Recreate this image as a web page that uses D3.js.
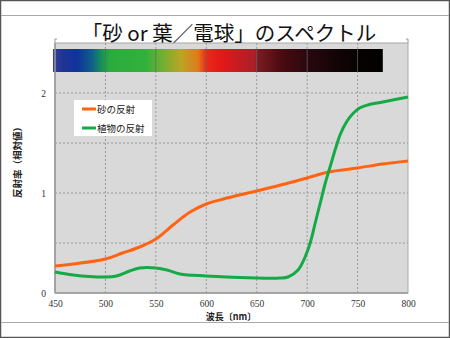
<!DOCTYPE html>
<html><head><meta charset="utf-8">
<script src="https://cdn.jsdelivr.net/npm/d3@7"></script>
<style>
html,body{margin:0;padding:0;background:#fff;}
svg{display:block;}
</style></head>
<body>
<svg id="c" width="450" height="338"></svg>
<script>
const title = "「砂 or 葉／電球」のスペクトル";
const xLabel = "波長〔nm〕";
const yLabel = "反射率（相対値）";
const seriesNames = ["砂の反射", "植物の反射"];
const xTicks = [450, 500, 550, 600, 650, 700, 750, 800];
const yTicks = [0, 1, 2];
const sandWl = [450, 468, 500, 517, 534, 550, 567, 584, 600, 617, 650, 678, 700, 721, 750, 775, 800];
const sandVal = [0.27, 0.29, 0.34, 0.40, 0.46, 0.54, 0.68, 0.81, 0.89, 0.94, 1.02, 1.09, 1.15, 1.21, 1.25, 1.29, 1.32];
const plantWl = [450, 468, 500, 511, 524, 534, 550, 561, 574, 600, 650, 673, 681, 691, 698, 703, 708, 713, 718, 723, 728, 733, 739, 745, 752, 760, 775, 800];
const plantVal = [0.21, 0.18, 0.16, 0.17, 0.22, 0.25, 0.25, 0.23, 0.19, 0.17, 0.15, 0.15, 0.16, 0.23, 0.36, 0.50, 0.70, 0.90, 1.10, 1.27, 1.44, 1.59, 1.71, 1.79, 1.85, 1.88, 1.91, 1.96];
const spectrumStops = [
  [448, "#3c3c9c"], [458, "#1e3494"], [472, "#10339a"], [487, "#10608a"], [498, "#189a50"],
  [505, "#2aac3c"], [540, "#34b03c"], [555, "#6ab034"], [575, "#bca424"], [592, "#e07a1c"],
  [600, "#e82a18"], [615, "#e41818"], [648, "#a82028"], [651, "#7a1c22"], [675, "#4a0a10"],
  [700, "#2a0810"], [730, "#120406"], [750, "#080202"], [775, "#020000"]
];
const spectrumRange = [448, 775];

const svg = d3.select("#c");
const W = 450, H = 338;

// outer frame
svg.append("rect").attr("x", 0.5).attr("y", 0.5).attr("width", W - 1).attr("height", H - 1)
  .attr("fill", "#fff").attr("stroke", "#555").attr("stroke-width", 1.5);
svg.append("line").attr("x1", 1).attr("x2", W - 1).attr("y1", 15.5).attr("y2", 15.5).attr("stroke", "#aaa");
svg.append("line").attr("x1", 1).attr("x2", W - 1).attr("y1", 322.5).attr("y2", 322.5).attr("stroke", "#aaa");

const m = {l: 55, r: 408, t: 43, b: 293};
const x = d3.scaleLinear().domain([450, 800]).range([m.l, m.r]);
const y = d3.scaleLinear().domain([0, 2.5]).range([m.b, m.t]);

// plot background
svg.append("rect").attr("x", m.l).attr("y", m.t).attr("width", m.r - m.l).attr("height", m.b - m.t)
  .attr("fill", "#d9d9d9").attr("stroke", "#a8a8a8").attr("stroke-width", 1);

// gridlines
const grid = svg.append("g");
xTicks.slice(1, -1).forEach(v => {
  grid.append("line").attr("x1", x(v)).attr("x2", x(v)).attr("y1", m.t).attr("y2", m.b)
    .attr("stroke", "#9a9a9a").attr("stroke-dasharray", "2,2");
});
[0.5, 1, 1.5, 2].forEach(v => {
  grid.append("line").attr("x1", m.l).attr("x2", m.r).attr("y1", y(v)).attr("y2", y(v))
    .attr("stroke", "#9a9a9a").attr("stroke-dasharray", "2,2");
});

// corner brackets
svg.append("path").attr("d", `M${m.l + 2},${m.t - 4}H${m.l}V${m.t}`).attr("fill", "none").attr("stroke", "#999");
svg.append("path").attr("d", `M${m.r - 2},${m.t - 4}H${m.r}V${m.t}`).attr("fill", "none").attr("stroke", "#999");

// spectrum bar
const defs = svg.append("defs");
const grad = defs.append("linearGradient").attr("id", "spec").attr("x1", "0%").attr("x2", "100%");
spectrumStops.forEach(([wl, col]) => {
  grad.append("stop").attr("offset", ((wl - spectrumRange[0]) / (spectrumRange[1] - spectrumRange[0]) * 100) + "%")
    .attr("stop-color", col);
});
svg.append("rect").attr("x", x(spectrumRange[0])).attr("y", 49)
  .attr("width", x(spectrumRange[1]) - x(spectrumRange[0])).attr("height", 23)
  .attr("fill", "url(#spec)");
xTicks.slice(1, -1).forEach(v => {
  if (v < spectrumRange[1])
    svg.append("line").attr("x1", x(v)).attr("x2", x(v)).attr("y1", 49).attr("y2", 72)
      .attr("stroke", "#666").attr("stroke-opacity", 0.7).attr("stroke-width", 1);
});

// axes lines (left & bottom)
svg.append("line").attr("x1", m.l).attr("x2", m.l).attr("y1", m.t).attr("y2", m.b).attr("stroke", "#999").attr("stroke-width", 1.5);
svg.append("line").attr("x1", m.l).attr("x2", m.r).attr("y1", m.b).attr("y2", m.b).attr("stroke", "#999").attr("stroke-width", 1.5);

// tick labels
const xAxis = d3.axisBottom(x).tickValues(xTicks).tickSize(0).tickPadding(7);
const gx = svg.append("g").attr("transform", `translate(0,${m.b})`).call(xAxis);
gx.select(".domain").remove();
gx.selectAll("text").attr("font-family", "'Liberation Serif', serif").attr("font-size", 9.5).attr("fill", "#333");
const yAxis = d3.axisLeft(y).tickValues(yTicks).tickFormat(d3.format("d")).tickSize(0).tickPadding(9);
const gy = svg.append("g").attr("transform", `translate(${m.l},0)`).call(yAxis);
gy.select(".domain").remove();
gy.selectAll("text").attr("font-family", "'Liberation Serif', serif").attr("font-size", 9.5).attr("fill", "#333");

// lines
const line = d3.line().x(d => x(d[0])).y(d => y(d[1])).curve(d3.curveCatmullRom.alpha(0.5));
svg.append("path").datum(sandWl.map((w, i) => [w, sandVal[i]]))
  .attr("d", line).attr("fill", "none").attr("stroke", "#ff6414").attr("stroke-width", 3);
svg.append("path").datum(plantWl.map((w, i) => [w, plantVal[i]]))
  .attr("d", line).attr("fill", "none").attr("stroke", "#14aa46").attr("stroke-width", 3);

// legend
const lg = svg.append("g");
lg.append("rect").attr("x", 74).attr("y", 100).attr("width", 78).attr("height", 36).attr("fill", "#fff");
const colors = ["#ff6414", "#14aa46"];
seriesNames.forEach((n, i) => {
  const yy = 109 + i * 19;
  lg.append("line").attr("x1", 82).attr("x2", 96).attr("y1", yy).attr("y2", yy)
    .attr("stroke", colors[i]).attr("stroke-width", 3);
  lg.append("text").attr("x", 97).attr("y", yy + 3.5).text(n)
    .attr("font-family", "'Noto Sans CJK JP', sans-serif").attr("font-size", 9.5).attr("fill", "#222");
});

// title
svg.append("text").attr("x", 229).attr("y", 41).attr("text-anchor", "middle").text(title)
  .attr("font-family", "'Noto Sans CJK JP', sans-serif").attr("font-size", 20.5).attr("fill", "#111");

// axis titles
svg.append("text").attr("x", 231).attr("y", 320).attr("text-anchor", "middle").text(xLabel)
  .attr("font-family", "'Noto Sans CJK JP', sans-serif").attr("font-size", 9).attr("font-weight", "bold").attr("fill", "#222");
svg.append("text").attr("transform", "translate(21,160) rotate(-90)").attr("text-anchor", "middle").text(yLabel)
  .attr("font-family", "'Noto Sans CJK JP', sans-serif").attr("font-size", 9.5).attr("font-weight", "bold").attr("fill", "#222");
</script>
</body></html>
